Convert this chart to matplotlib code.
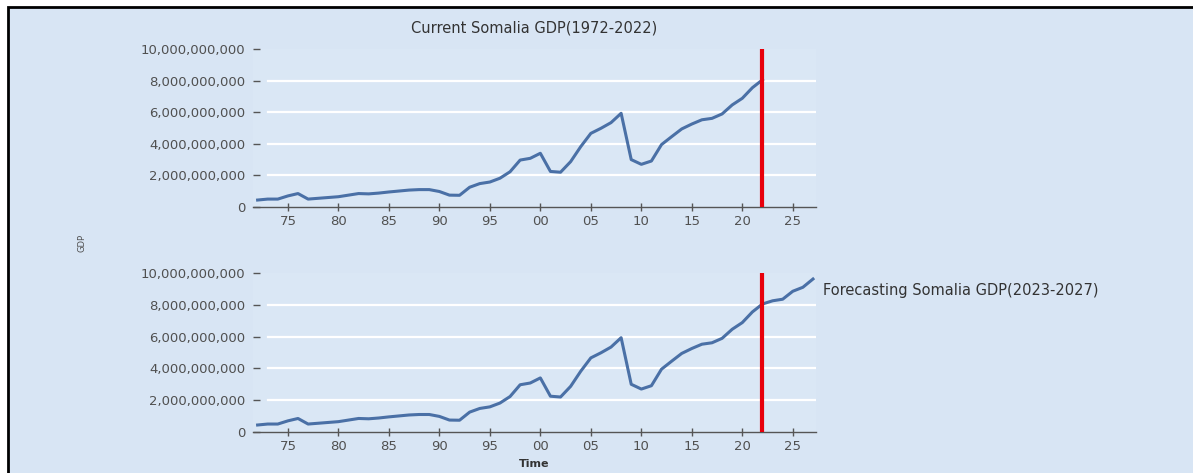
import matplotlib
matplotlib.use("Agg")
import matplotlib.pyplot as plt
from matplotlib.patches import Rectangle
from matplotlib.ticker import FuncFormatter

# Somalia GDP, current US$ (billions)
years = list(range(1972, 2023))
gdp_bn = [0.44, 0.50, 0.50, 0.70, 0.85, 0.50, 0.55, 0.60, 0.65, 0.75,
          0.85, 0.83, 0.88, 0.95, 1.01, 1.07, 1.10, 1.10, 0.98, 0.75,
          0.74, 1.25, 1.48, 1.58, 1.82, 2.23, 2.97, 3.08, 3.40, 2.25,
          2.20, 2.87, 3.82, 4.66, 4.98, 5.34, 5.93, 3.00, 2.70, 2.91,
          3.95, 4.45, 4.94, 5.25, 5.52, 5.61, 5.89, 6.46, 6.88, 7.55,
          8.05]
fc_years = [2022, 2023, 2024, 2025, 2026, 2027]
fc_bn = [8.05, 8.25, 8.35, 8.85, 9.10, 9.62]

yticks = [0, 2e9, 4e9, 6e9, 8e9, 1e10]
xticks = [1975, 1980, 1985, 1990, 1995, 2000, 2005, 2010, 2015, 2020, 2025]
cut_year = 2022

BG = "#D8E5F4"
LINE = "#4A70A6"
TXT = "#505050"

gdp = [v * 1e9 for v in gdp_bn]
fc = [v * 1e9 for v in fc_bn]

fig = plt.figure(figsize=(11.93, 4.73), dpi=100)
fig.patch.set_facecolor("white")
# framed light-blue panel (only left and top edge visible, like the screenshot)
fig.patches.append(Rectangle((8 / 1193, -0.02), 1.1, (473 - 7) / 473 + 0.02,
                             transform=fig.transFigure, facecolor=BG,
                             edgecolor="black", lw=2, zorder=-5))

ax1 = fig.add_axes([0.2117, 0.5624, 0.4723, 0.334])
ax2 = fig.add_axes([0.2117, 0.0867, 0.4723, 0.3362])


def style(ax):
    ax.set_facecolor("#DAE7F5")
    for s in ["left", "right", "top"]:
        ax.spines[s].set_visible(False)
    ax.spines["bottom"].set_color("#555555")
    ax.spines["bottom"].set_linewidth(1)
    ax.set_xlim(1971.5, 2027.3)
    ax.set_ylim(0, 1e10)
    ax.set_xticks(xticks)
    ax.set_yticks(yticks)
    ax.xaxis.set_major_formatter(FuncFormatter(lambda v, p: "%02d" % (int(v) % 100)))
    ax.yaxis.set_major_formatter(FuncFormatter(lambda v, p: f"{int(v):,}"))
    ax.tick_params(axis="y", direction="in", length=5, width=1, color="#555555",
                   labelsize=9.5, labelcolor=TXT, pad=5)
    ax.tick_params(axis="x", direction="inout", length=6, width=1, color="#555555",
                   labelsize=9.5, labelcolor=TXT, pad=3)
    for v in yticks[1:-1]:
        ax.axhline(v, xmin=0.027, xmax=1.0, color="white", lw=1.6, zorder=0)
    ax.vlines(cut_year, 0, 1e10, color="#E8000B", lw=3.0, zorder=4, clip_on=False)


style(ax1)
ax1.plot(years, gdp, color=LINE, lw=2.2, zorder=3)
ax1.set_title("Current Somalia GDP(1972-2022)", fontsize=10.5, color="#333333", pad=12)

style(ax2)
ax2.plot(years, gdp, color=LINE, lw=2.2, zorder=3)
ax2.plot(fc_years, fc, color=LINE, lw=2.2, zorder=3, clip_on=False)
ax2.text(1.0125, 0.887, "Forecasting Somalia GDP(2023-2027)", transform=ax2.transAxes,
         fontsize=10.5, color="#333333", va="center", ha="left")
ax2.set_xlabel("Time", fontsize=8, fontweight="bold", color="#333333", labelpad=4)

fig.text(82 / 1193, 1 - 243 / 473, "GDP", rotation=90, fontsize=6, color=TXT,
         ha="center", va="center")

fig.savefig("out.png", dpi=100, facecolor=fig.get_facecolor())
